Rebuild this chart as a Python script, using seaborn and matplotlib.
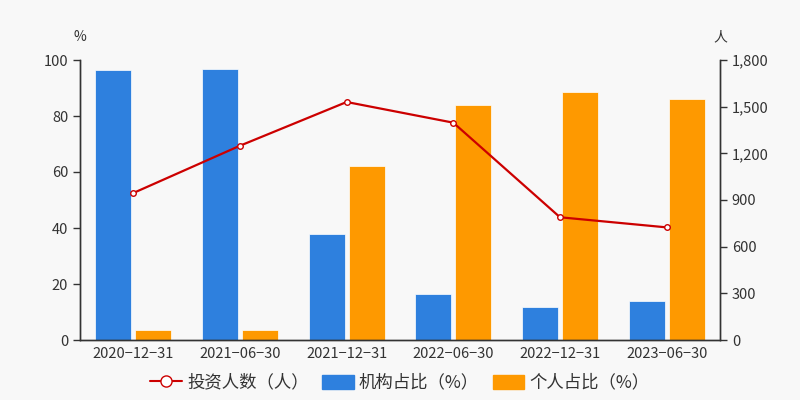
import numpy as np
import pandas as pd
import matplotlib
matplotlib.use("Agg")
import matplotlib.pyplot as plt
from matplotlib.lines import Line2D
from matplotlib.patches import Patch
import seaborn as sns

# data
dates = ["2020-12-31", "2021-06-30", "2021-12-31", "2022-06-30", "2022-12-31", "2023-06-30"]
inst_pct = [96.4, 96.7, 37.9, 16.3, 11.8, 13.9]
indiv_pct = [3.7, 3.6, 62.1, 83.8, 88.6, 86.2]
investors = [945, 1249, 1530, 1397, 789, 724]

BLUE = "#2e80de"
ORANGE = "#fe9900"
RED = "#cc0000"
TXT = "#333333"

sns.set_theme(style="white")
plt.rcParams["font.family"] = ["Noto Sans CJK SC", "DejaVu Sans"]
plt.rcParams["axes.unicode_minus"] = False

df = pd.DataFrame({
    "date": dates * 2,
    "pct": inst_pct + indiv_pct,
    "kind": ["机构占比（%）"] * len(dates) + ["个人占比（%）"] * len(dates),
})

fig = plt.figure(figsize=(8, 4), dpi=100, facecolor="#f8f8f8")
ax = fig.add_axes([0.1, 0.15, 0.8, 0.7])
ax.set_facecolor("#f8f8f8")

sns.barplot(data=df, x="date", y="pct", hue="kind", order=dates,
            palette=[BLUE, ORANGE], saturation=1, width=0.75, gap=0.1, ax=ax,
            edgecolor="#ffffff", linewidth=0.5, legend=False)

ax.set_ylim(0, 100)
ax.set_xlim(-0.5, len(dates) - 0.5)
ax.set_yticks(range(0, 101, 20))
ax.set_xlabel("")
ax.set_ylabel("")
ax.set_xticks(np.arange(len(dates)))
ax.set_xticklabels([d.replace("-", "\u2212") for d in dates])
ax.set_xticks(np.arange(-0.5, len(dates), 1), minor=True)
ax.tick_params(axis="x", which="major", length=0, pad=5, labelsize=10.5, labelcolor=TXT)
ax.tick_params(axis="x", which="minor", length=5, color=TXT, width=1, direction="out")
ax.tick_params(axis="y", length=5, color=TXT, width=1, direction="out", labelsize=10.5,
               labelcolor=TXT, left=True)

ax2 = ax.twinx()
sns.lineplot(x=np.arange(len(dates)), y=investors, ax=ax2, color=RED, linewidth=1.6,
             marker="o", markersize=4, markerfacecolor="white", markeredgecolor=RED,
             markeredgewidth=1)
ax2.set_ylim(0, 1800)
ax2.set_yticks(range(0, 1801, 300))
ax2.set_yticklabels([f"{v:,}" for v in range(0, 1801, 300)])
ax2.tick_params(axis="y", length=5, color=TXT, width=1, direction="out", labelsize=10.5,
                labelcolor=TXT, right=True)
ax2.grid(False)
ax.grid(False)

for a in (ax, ax2):
    a.spines["top"].set_visible(False)
    for s in ("left", "right", "bottom"):
        a.spines[s].set_color(TXT)
        a.spines[s].set_linewidth(1)

fig.text(0.1, 0.907, "%", ha="center", va="center", fontsize=10, color=TXT)
fig.text(0.9, 0.907, "人", ha="center", va="center", fontsize=10, color=TXT)

handles = [
    Line2D([0], [0], color=RED, lw=1.5, marker="o", markersize=8,
           markerfacecolor="white", markeredgecolor=RED),
    Patch(facecolor=BLUE, edgecolor=BLUE),
    Patch(facecolor=ORANGE, edgecolor=ORANGE),
]
labels = ["投资人数（人）", "机构占比（%）", "个人占比（%）"]
fig.legend(handles, labels, loc="center", bbox_to_anchor=(0.5, 0.043), ncol=3,
           frameon=False, fontsize=12.5, handlelength=1.8, handleheight=0.9,
           handletextpad=0.3, columnspacing=0.8, labelcolor=TXT)

fig.savefig("out.png", dpi=100, facecolor=fig.get_facecolor())
